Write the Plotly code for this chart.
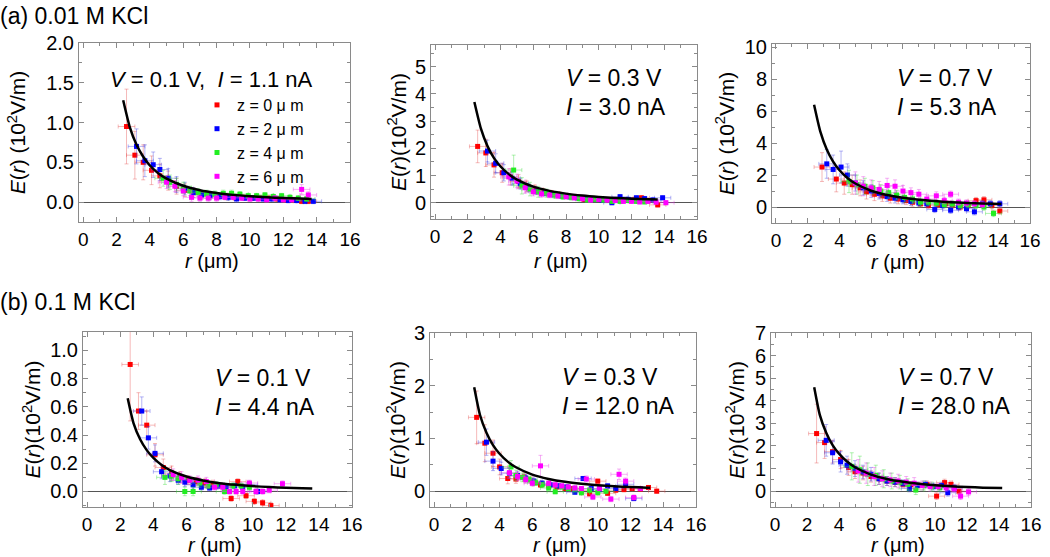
import plotly.graph_objects as go

# ---------------- data ----------------
X_ERR = 0.5
X_TICKS = [0, 2, 4, 6, 8, 10, 12, 14, 16]
SERIES_NAMES = ["z = 0 \u03bc m", "z = 2 \u03bc m", "z = 4 \u03bc m", "z = 6 \u03bc m"]

# (a) 0.01 M KCl, V = 0.1 V
a1_red_r = [2.6, 3.1, 3.6, 4.1, 4.6, 5.1, 5.6, 6.1, 6.6, 7.1, 7.6, 8.1, 8.6, 9.1, 9.6, 10.1, 10.6, 11.1, 11.6, 12.1, 12.6, 13.1, 13.5]
a1_red_e = [0.95, 0.59, 0.50, 0.40, 0.33, 0.27, 0.20, 0.15, 0.12, 0.09, 0.08, 0.08, 0.07, 0.06, 0.06, 0.05, 0.05, 0.05, 0.04, 0.03, 0.03, 0.01, 0.01]
a1_red_de = [0.47, 0.30, 0.22, 0.18, 0.15, 0.12, 0.10, 0.08, 0.06, 0.05, 0.05, 0.04, 0.04, 0.04, 0.03, 0.03, 0.03, 0.03, 0.03, 0.03, 0.03, 0.03, 0.03]
a1_blue_r = [3.2, 3.7, 4.2, 4.6, 5.1, 5.6, 6.1, 6.6, 7.1, 7.6, 8.2, 8.7, 9.2, 9.7, 10.2, 10.8, 11.3, 11.8, 12.3, 12.8, 13.3, 13.8]
a1_blue_e = [0.70, 0.52, 0.47, 0.41, 0.30, 0.22, 0.17, 0.12, 0.09, 0.08, 0.07, 0.06, 0.04, 0.05, 0.05, 0.04, 0.04, 0.03, 0.02, 0.02, 0.01, 0.01]
a1_blue_de = [0.22, 0.20, 0.16, 0.14, 0.12, 0.10, 0.08, 0.06, 0.05, 0.05, 0.04, 0.04, 0.04, 0.03, 0.03, 0.03, 0.03, 0.03, 0.03, 0.03, 0.03, 0.03]
a1_green_r = [4.8, 5.2, 5.6, 6.0, 6.4, 6.9, 7.4, 7.9, 8.4, 8.9, 9.4, 9.9, 10.4, 10.9, 11.4, 11.9, 12.4, 12.9, 13.4]
a1_green_e = [0.30, 0.25, 0.22, 0.18, 0.14, 0.12, 0.10, 0.10, 0.11, 0.11, 0.10, 0.08, 0.08, 0.09, 0.07, 0.08, 0.06, 0.05, 0.04]
a1_green_de = [0.10, 0.09, 0.08, 0.07, 0.06, 0.05, 0.05, 0.04, 0.04, 0.04, 0.03, 0.03, 0.03, 0.03, 0.03, 0.03, 0.03, 0.03, 0.03]
a1_mag_r = [5.0, 5.5, 6.0, 6.5, 7.0, 7.5, 8.0, 8.5, 9.0, 9.5, 10.0, 10.5, 11.0, 11.5, 12.0, 12.5, 13.1, 13.5]
a1_mag_e = [0.25, 0.20, 0.14, 0.06, 0.05, 0.05, 0.05, 0.06, 0.06, 0.05, 0.04, 0.04, 0.03, 0.05, 0.03, 0.03, 0.16, 0.09]
a1_mag_de = [0.08, 0.07, 0.06, 0.05, 0.04, 0.04, 0.04, 0.03, 0.03, 0.03, 0.03, 0.03, 0.03, 0.03, 0.03, 0.03, 0.06, 0.04]
a1_fit_r = [2.4, 2.8, 3.2, 3.6, 4.0, 4.5, 5.0, 6.0, 7.0, 8.0, 9.0, 10.0, 11.0, 12.0, 13.0, 13.7]
a1_fit_e = [1.28, 0.94, 0.72, 0.57, 0.46, 0.364, 0.295, 0.205, 0.15, 0.115, 0.091, 0.074, 0.061, 0.051, 0.044, 0.04]

# (a) V = 0.3 V
a2_red_r = [2.6, 3.1, 3.6, 4.1, 4.6, 5.1, 5.6, 6.1, 6.6, 7.1, 7.6, 8.1, 8.6, 9.1, 9.6, 10.1, 10.6, 11.1, 11.6, 12.1, 12.6, 13.1, 13.6]
a2_red_e = [2.07, 1.83, 1.39, 1.10, 0.95, 0.78, 0.60, 0.50, 0.40, 0.35, 0.30, 0.25, 0.20, 0.12, 0.15, 0.12, 0.10, 0.12, 0.10, 0.10, 0.18, 0.08, -0.08]
a2_red_de = [0.60, 0.50, 0.45, 0.35, 0.30, 0.25, 0.20, 0.15, 0.12, 0.10, 0.10, 0.08, 0.08, 0.08, 0.08, 0.08, 0.08, 0.08, 0.08, 0.08, 0.08, 0.08, 0.08]
a2_blue_r = [3.2, 3.7, 4.2, 4.7, 5.2, 5.7, 6.2, 6.7, 7.2, 7.7, 8.2, 8.7, 9.2, 9.7, 10.2, 10.8, 11.3, 11.8, 12.3, 12.8, 13.3, 13.9]
a2_blue_e = [1.90, 1.45, 1.10, 0.90, 0.70, 0.55, 0.42, 0.35, 0.30, 0.25, 0.22, 0.18, 0.15, 0.12, 0.10, 0.00, 0.22, 0.12, 0.18, 0.15, 0.10, 0.18]
a2_blue_de = [0.40, 0.35, 0.30, 0.25, 0.20, 0.15, 0.12, 0.10, 0.10, 0.08, 0.08, 0.08, 0.08, 0.08, 0.08, 0.08, 0.08, 0.08, 0.08, 0.08, 0.08, 0.08]
a2_green_r = [4.8, 5.3, 5.8, 6.3, 6.8, 7.3, 7.8, 8.3, 8.8, 9.3, 9.8, 10.3, 10.8, 11.3, 11.8, 12.3, 12.8]
a2_green_e = [1.20, 0.62, 0.50, 0.40, 0.35, 0.28, 0.22, 0.20, 0.15, 0.10, 0.12, 0.10, 0.05, 0.05, 0.08, 0.05, 0.03]
a2_green_de = [0.55, 0.30, 0.25, 0.20, 0.15, 0.12, 0.10, 0.10, 0.08, 0.08, 0.08, 0.08, 0.08, 0.08, 0.08, 0.08, 0.08]
a2_mag_r = [4.5, 5.0, 5.5, 6.0, 6.5, 7.0, 7.5, 8.0, 8.5, 9.0, 9.5, 10.0, 10.5, 11.0, 11.5, 12.0, 12.5, 13.0, 13.5, 14.1]
a2_mag_e = [0.95, 0.80, 0.55, 0.40, 0.32, 0.28, 0.25, 0.22, 0.18, 0.15, 0.10, 0.12, 0.10, 0.08, 0.05, 0.05, 0.03, 0.05, 0.02, 0.00]
a2_mag_de = [0.30, 0.25, 0.20, 0.15, 0.12, 0.10, 0.10, 0.08, 0.08, 0.08, 0.08, 0.08, 0.08, 0.08, 0.08, 0.08, 0.08, 0.08, 0.08, 0.08]
a2_fit_r = [2.4, 2.8, 3.2, 3.6, 4.0, 4.5, 5.0, 6.0, 7.0, 8.0, 9.0, 10.0, 11.0, 12.0, 13.0, 13.6]
a2_fit_e = [3.7, 2.72, 2.08, 1.64, 1.33, 1.05, 0.85, 0.59, 0.435, 0.333, 0.263, 0.213, 0.176, 0.148, 0.126, 0.115]

# (a) V = 0.7 V
a3_red_r = [2.9, 3.8, 4.3, 4.8, 5.3, 5.7, 6.2, 6.7, 7.2, 7.7, 8.2, 8.6, 9.1, 9.6, 10.2, 10.7, 11.1, 11.6, 12.1, 12.6, 13.1, 13.6, 14.1]
a3_red_e = [2.5, 1.75, 1.5, 1.4, 1.2, 0.95, 0.8, 0.7, 0.55, 0.5, 0.4, 0.3, 0.2, 0.1, 0.15, 0.2, 0.1, 0.0, 0.1, 0.4, 0.45, 0.1, -0.25]
a3_red_de = [0.9, 0.8, 0.7, 0.6, 0.5, 0.45, 0.4, 0.35, 0.3, 0.3, 0.25, 0.25, 0.2, 0.2, 0.2, 0.2, 0.2, 0.2, 0.2, 0.2, 0.2, 0.2, 0.2]
a3_blue_r = [3.2, 3.6, 4.1, 4.5, 5.0, 5.5, 6.0, 6.5, 7.0, 7.5, 8.0, 8.5, 9.0, 9.5, 10.0, 10.5, 11.0, 11.5, 12.0, 12.5, 13.0, 13.5, 14.1]
a3_blue_e = [2.7, 2.35, 2.5, 2.0, 1.5, 1.2, 1.0, 0.85, 0.65, 0.55, 0.45, 0.35, 0.25, 0.2, -0.15, 0.1, -0.2, 0.0, -0.1, -0.3, 0.2, 0.2, 0.2]
a3_blue_de = [0.9, 0.9, 1.0, 0.7, 0.5, 0.45, 0.4, 0.35, 0.3, 0.3, 0.25, 0.25, 0.2, 0.2, 0.2, 0.2, 0.2, 0.2, 0.2, 0.2, 0.2, 0.2, 0.2]
a3_green_r = [4.6, 5.1, 5.6, 6.1, 6.6, 7.1, 7.6, 8.1, 8.6, 9.1, 9.6, 10.1, 10.6, 11.1, 11.6, 12.1, 12.6, 13.1, 13.7]
a3_green_e = [1.6, 1.4, 1.3, 1.2, 1.0, 0.9, 0.75, 0.6, 0.5, 0.3, 0.3, 0.25, 0.15, 0.2, 0.1, 0.15, 0.1, 0.0, -0.4]
a3_green_de = [0.7, 0.6, 0.5, 0.45, 0.4, 0.35, 0.3, 0.3, 0.25, 0.25, 0.2, 0.2, 0.2, 0.2, 0.2, 0.2, 0.2, 0.2, 0.2]
a3_mag_r = [5.0, 5.5, 6.0, 6.5, 7.0, 7.5, 8.0, 8.5, 9.0, 9.5, 10.1, 10.6, 11.0, 11.5, 12.0, 12.5, 13.0]
a3_mag_e = [1.5, 1.3, 1.2, 1.1, 1.35, 1.3, 1.0, 0.9, 0.8, 0.5, 0.7, 0.4, 0.8, 0.3, 0.25, 0.2, 0.15]
a3_mag_de = [0.7, 0.6, 0.5, 0.5, 0.45, 0.4, 0.35, 0.3, 0.3, 0.25, 0.25, 0.2, 0.2, 0.2, 0.2, 0.2, 0.2]
a3_fit_r = [2.4, 2.8, 3.2, 3.6, 4.0, 4.5, 5.0, 6.0, 7.0, 8.0, 9.0, 10.0, 11.0, 12.0, 13.0, 14.2]
a3_fit_e = [6.4, 4.7, 3.6, 2.84, 2.3, 1.82, 1.47, 1.02, 0.75, 0.58, 0.455, 0.37, 0.305, 0.256, 0.218, 0.185]

# (b) 0.1 M KCl, V = 0.1 V
b1_red_r = [2.6, 3.1, 3.6, 4.1, 4.6, 5.1, 5.6, 6.1, 6.6, 7.1, 7.6, 8.1, 8.7, 9.1, 9.6, 10.1, 10.6, 11.1]
b1_red_e = [0.90, 0.57, 0.47, 0.26, 0.17, 0.13, 0.10, 0.08, 0.07, 0.06, 0.05, 0.04, -0.05, 0.07, -0.03, -0.07, -0.08, -0.10]
b1_red_de = [0.40, 0.13, 0.10, 0.08, 0.06, 0.05, 0.04, 0.03, 0.03, 0.03, 0.03, 0.02, 0.02, 0.02, 0.02, 0.02, 0.02, 0.02]
b1_blue_r = [3.3, 3.7, 4.1, 4.5, 5.0, 5.5, 5.9, 6.4, 6.9, 7.4, 7.9, 8.4, 8.9, 9.4, 9.8, 10.3]
b1_blue_e = [0.57, 0.38, 0.27, 0.14, 0.11, 0.08, 0.066, 0.047, 0.03, 0.025, 0.04, 0.03, 0.04, 0.03, 0.05, 0.0]
b1_blue_de = [0.10, 0.08, 0.06, 0.05, 0.04, 0.03, 0.03, 0.03, 0.02, 0.02, 0.02, 0.02, 0.02, 0.02, 0.02, 0.02]
b1_green_r = [4.7, 5.1, 5.5, 5.9, 6.4, 6.8, 7.3, 7.8, 8.3, 8.8, 9.3, 9.8]
b1_green_e = [0.10, 0.11, 0.09, 0.0, 0.0, 0.06, 0.04, 0.05, 0.0, 0.04, 0.04, 0.03]
b1_green_de = [0.05, 0.04, 0.04, 0.03, 0.03, 0.03, 0.02, 0.02, 0.02, 0.02, 0.02, 0.02]
b1_mag_r = [5.2, 5.7, 6.2, 6.7, 7.2, 7.7, 8.2, 8.6, 9.0, 9.4, 9.8, 10.2, 10.6, 11.0, 11.8]
b1_mag_e = [0.12, 0.10, 0.08, 0.08, 0.07, 0.03, 0.03, 0.0, 0.0, 0.0, 0.06, 0.0, 0.0, 0.01, 0.055]
b1_mag_de = [0.04, 0.04, 0.03, 0.03, 0.03, 0.02, 0.02, 0.02, 0.02, 0.02, 0.02, 0.02, 0.02, 0.02, 0.02]
b1_fit_r = [2.45, 2.8, 3.2, 3.6, 4.0, 4.5, 5.0, 6.0, 7.0, 8.0, 9.0, 10.0, 11.0, 12.0, 13.0, 13.6]
b1_fit_e = [0.66, 0.485, 0.37, 0.293, 0.238, 0.188, 0.152, 0.106, 0.078, 0.059, 0.047, 0.038, 0.031, 0.026, 0.0225, 0.021]

# (b) V = 0.3 V
b2_red_r = [2.6, 3.1, 3.6, 4.0, 4.5, 5.0, 5.5, 6.0, 6.5, 7.0, 7.5, 8.0, 8.5, 9.0, 9.5, 10.0, 10.6, 11.1, 11.6, 12.1, 12.6, 13.1, 13.6]
b2_red_e = [1.40, 0.91, 0.72, 0.46, 0.24, 0.23, 0.27, 0.18, 0.12, 0.10, 0.08, 0.05, 0.05, 0.02, -0.05, 0.19, -0.04, 0.02, 0.03, 0.05, 0.04, 0.07, 0.0]
b2_red_de = [0.50, 0.35, 0.25, 0.15, 0.10, 0.08, 0.08, 0.06, 0.05, 0.05, 0.05, 0.04, 0.04, 0.04, 0.04, 0.04, 0.04, 0.04, 0.04, 0.04, 0.04, 0.04, 0.04]
b2_blue_r = [3.2, 3.6, 4.1, 4.6, 5.1, 5.6, 6.1, 6.6, 7.1, 7.6, 8.1, 8.6, 9.1, 9.6, 10.1, 10.6, 11.1, 11.7, 12.2]
b2_blue_e = [0.93, 0.57, 0.43, 0.34, 0.30, 0.25, 0.19, 0.15, 0.12, 0.10, 0.08, -0.02, 0.24, 0.05, 0.03, 0.10, 0.05, 0.13, -0.14]
b2_blue_de = [0.25, 0.18, 0.12, 0.10, 0.08, 0.06, 0.05, 0.05, 0.05, 0.04, 0.04, 0.04, 0.04, 0.04, 0.04, 0.04, 0.04, 0.04, 0.04]
b2_green_r = [4.7, 5.0, 5.4, 5.8, 6.2, 6.6, 7.0, 7.4, 7.8, 8.2, 8.6, 9.0, 9.5, 10.0, 10.5]
b2_green_e = [0.46, 0.30, 0.26, 0.22, 0.16, 0.12, 0.06, -0.01, 0.08, 0.05, 0.04, -0.03, 0.02, -0.03, 0.0]
b2_green_de = [0.12, 0.10, 0.08, 0.06, 0.05, 0.05, 0.04, 0.04, 0.04, 0.04, 0.04, 0.04, 0.04, 0.04, 0.04]
b2_mag_r = [4.6, 5.1, 5.6, 6.0, 6.5, 7.0, 7.4, 7.8, 8.2, 8.6, 9.0, 9.3, 9.7, 10.1, 10.8, 11.3, 11.7, 12.2, 12.6]
b2_mag_e = [0.35, 0.28, 0.22, 0.15, 0.48, 0.15, 0.12, 0.10, 0.08, 0.06, 0.05, 0.23, -0.11, 0.05, -0.15, 0.32, 0.19, -0.12, 0.05]
b2_mag_de = [0.10, 0.08, 0.06, 0.05, 0.20, 0.05, 0.04, 0.04, 0.04, 0.04, 0.04, 0.06, 0.05, 0.04, 0.05, 0.10, 0.06, 0.05, 0.04]
b2_fit_r = [2.45, 2.8, 3.2, 3.6, 4.0, 4.5, 5.0, 6.0, 7.0, 8.0, 9.0, 10.0, 11.0, 12.0, 13.0, 13.2]
b2_fit_e = [1.97, 1.45, 1.11, 0.875, 0.71, 0.56, 0.454, 0.315, 0.232, 0.177, 0.14, 0.113, 0.094, 0.079, 0.067, 0.065]

# (b) V = 0.7 V
b3_red_r = [2.6, 3.1, 3.6, 4.1, 4.6, 5.0, 5.5, 6.0, 6.5, 7.0, 7.5, 8.0, 8.5, 9.0, 9.5, 10.1, 10.6, 11.0, 11.5]
b3_red_e = [2.55, 2.15, 1.75, 1.40, 1.05, 0.86, 0.80, 0.65, 0.55, 0.45, 0.40, 0.30, 0.28, 0.25, 0.30, -0.22, 0.38, 0.30, 0.0]
b3_red_de = [1.30, 0.70, 0.50, 0.40, 0.35, 0.30, 0.30, 0.25, 0.25, 0.20, 0.20, 0.15, 0.15, 0.15, 0.15, 0.15, 0.15, 0.15, 0.15]
b3_blue_r = [3.2, 3.6, 4.1, 4.5, 5.0, 5.5, 6.0, 6.5, 7.0, 7.5, 8.0, 8.4, 8.9, 9.4, 9.9, 10.4, 10.8, 11.2]
b3_blue_e = [2.25, 1.70, 1.30, 1.15, 1.00, 0.85, 0.75, 0.55, 0.45, 0.40, 0.35, 0.12, 0.25, 0.30, 0.20, 0.25, -0.07, 0.15]
b3_blue_de = [0.70, 0.50, 0.45, 0.40, 0.35, 0.30, 0.30, 0.25, 0.20, 0.20, 0.15, 0.15, 0.15, 0.15, 0.15, 0.15, 0.15, 0.15]
b3_green_r = [4.8, 5.3, 5.8, 6.3, 6.8, 7.3, 7.8, 8.3, 8.8, 9.3, 9.8, 10.3]
b3_green_e = [1.10, 0.95, 0.75, 0.70, 0.55, 0.45, 0.40, 0.30, 0.05, 0.25, 0.20, 0.15]
b3_green_de = [0.60, 0.60, 0.50, 0.45, 0.40, 0.35, 0.30, 0.25, 0.20, 0.20, 0.20, 0.15]
b3_mag_r = [5.2, 5.7, 6.2, 6.7, 7.2, 7.7, 8.2, 8.7, 9.2, 9.7, 10.2, 10.7, 11.2, 11.6, 12.1]
b3_mag_e = [0.90, 0.80, 0.65, 0.55, 0.50, 0.45, 0.40, 0.35, 0.25, 0.20, 0.20, 0.15, 0.10, -0.22, -0.03]
b3_mag_de = [0.50, 0.45, 0.40, 0.35, 0.30, 0.30, 0.25, 0.25, 0.20, 0.20, 0.15, 0.15, 0.15, 0.15, 0.15]
b3_fit_r = [2.45, 2.8, 3.2, 3.6, 4.0, 4.5, 5.0, 6.0, 7.0, 8.0, 9.0, 10.0, 11.0, 12.0, 13.0, 14.2]
b3_fit_e = [4.6, 3.38, 2.59, 2.04, 1.66, 1.31, 1.06, 0.736, 0.54, 0.414, 0.327, 0.265, 0.219, 0.184, 0.157, 0.137]

# y-axis ticks per panel
a1_yticks = [0.0, 0.5, 1.0, 1.5, 2.0]
a2_yticks = [0, 1, 2, 3, 4, 5]
a3_yticks = [0, 2, 4, 6, 8, 10]
b1_yticks = [0.0, 0.2, 0.4, 0.6, 0.8, 1.0]
b2_yticks = [0, 1, 2, 3]
b3_yticks = [0, 1, 2, 3, 4, 5, 6, 7]

# ---------------- styling / layout ----------------
W, H = 1050, 557
FONT = "Liberation Sans, Arial, sans-serif"
COLORS = ["#ff0000", "#0000ff", "#22ee22", "#ff00ff"]
ERR_COLORS = ["rgba(230,80,80,0.4)", "rgba(70,70,230,0.4)", "rgba(60,220,60,0.4)", "rgba(230,60,230,0.4)"]

panels = [
    dict(box=(79, 350, 43, 222), yr=(-0.25, 2.0), yt=a1_yticks, fmt=".1f", ydt=0.25,
         series=[(a1_red_r, a1_red_e, a1_red_de), (a1_blue_r, a1_blue_e, a1_blue_de),
                 (a1_green_r, a1_green_e, a1_green_de), (a1_mag_r, a1_mag_e, a1_mag_de)],
         fit=(a1_fit_r, a1_fit_e), ytitle="<i>E</i>(<i>r</i>) (10<sup>2</sup>V/m)", stand=14, xt=261),
    dict(box=(431, 697, 45, 219), yr=(-0.6, 5.8), yt=a2_yticks, fmt="d", ydt=0.5,
         series=[(a2_red_r, a2_red_e, a2_red_de), (a2_blue_r, a2_blue_e, a2_blue_de),
                 (a2_green_r, a2_green_e, a2_green_de), (a2_mag_r, a2_mag_e, a2_mag_de)],
         fit=(a2_fit_r, a2_fit_e), ytitle="<i>E</i>(<i>r</i>)(10<sup>2</sup>V/m)", stand=2, xt=261),
    dict(box=(772, 1030, 44, 223), yr=(-1.0, 10.2), yt=a3_yticks, fmt="d", ydt=1,
         series=[(a3_red_r, a3_red_e, a3_red_de), (a3_blue_r, a3_blue_e, a3_blue_de),
                 (a3_green_r, a3_green_e, a3_green_de), (a3_mag_r, a3_mag_e, a3_mag_de)],
         fit=(a3_fit_r, a3_fit_e), ytitle="<i>E</i>(<i>r</i>) (10<sup>2</sup>V/m)", stand=4, xt=262),
    dict(box=(83, 352, 332, 507), yr=(-0.11, 1.13), yt=b1_yticks, fmt=".1f", ydt=0.1,
         series=[(b1_red_r, b1_red_e, b1_red_de), (b1_blue_r, b1_blue_e, b1_blue_de),
                 (b1_green_r, b1_green_e, b1_green_de), (b1_mag_r, b1_mag_e, b1_mag_de)],
         fit=(b1_fit_r, b1_fit_e), ytitle="<i>E</i>(<i>r</i>)(10<sup>2</sup>V/m)", stand=3, xt=545),
    dict(box=(430, 696, 333, 507), yr=(-0.3, 3.0), yt=b2_yticks, fmt="d", ydt=0.5,
         series=[(b2_red_r, b2_red_e, b2_red_de), (b2_blue_r, b2_blue_e, b2_blue_de),
                 (b2_green_r, b2_green_e, b2_green_de), (b2_mag_r, b2_mag_e, b2_mag_de)],
         fit=(b2_fit_r, b2_fit_e), ytitle="<i>E</i>(<i>r</i>)(10<sup>2</sup>V/m)", stand=2, xt=545),
    dict(box=(771, 1031, 333, 507), yr=(-0.7, 7.0), yt=b3_yticks, fmt="d", ydt=0.5,
         series=[(b3_red_r, b3_red_e, b3_red_de), (b3_blue_r, b3_blue_e, b3_blue_de),
                 (b3_green_r, b3_green_e, b3_green_de), (b3_mag_r, b3_mag_e, b3_mag_de)],
         fit=(b3_fit_r, b3_fit_e), ytitle="<i>E</i>(<i>r</i>)(10<sup>2</sup>V/m)", stand=4, xt=545),
]

fig = go.Figure()
layout = dict(
    width=W, height=H, margin=dict(l=0, r=0, t=0, b=0, autoexpand=False),
    paper_bgcolor="white", plot_bgcolor="white",
    font=dict(family=FONT, size=20, color="black"),
    showlegend=True,
    legend=dict(x=197 / W, y=1 - 88 / H, xanchor="left", yanchor="top",
                bgcolor="rgba(0,0,0,0)", font=dict(size=16, family=FONT),
                tracegroupgap=0, itemwidth=30),
)

def label(text, px, py, size=23, anchor="left"):
    fig.add_annotation(text=text, x=px / W, y=1 - py / H, xref="paper", yref="paper",
                       xanchor=anchor, yanchor="middle", showarrow=False,
                       font=dict(size=size, family=FONT, color="black"))

for i, p in enumerate(panels):
    n = i + 1
    xa = "x" if n == 1 else f"x{n}"
    ya = "y" if n == 1 else f"y{n}"
    x0, x1, y0, y1 = p["box"]
    for s, (rr, ee, de) in enumerate(p["series"]):
        fig.add_trace(go.Scatter(
            x=rr, y=ee, mode="markers", xaxis=xa, yaxis=ya,
            name=SERIES_NAMES[s], legendgroup=SERIES_NAMES[s], showlegend=(n == 1),
            marker=dict(symbol="square", size=5, color=COLORS[s]),
            error_x=dict(type="constant", value=X_ERR, color=ERR_COLORS[s], thickness=1, width=2),
            error_y=dict(type="data", array=de, color=ERR_COLORS[s], thickness=1, width=2),
        ))
    fig.add_trace(go.Scatter(
        x=p["fit"][0], y=p["fit"][1], mode="lines", xaxis=xa, yaxis=ya, showlegend=False,
        line=dict(color="black", width=2.5, shape="spline", smoothing=0.6),
    ))
    axis_common = dict(showline=True, linecolor="#8a8a8a", linewidth=1, mirror="allticks",
                       ticks="inside", ticklen=5, tickcolor="#8a8a8a", showgrid=False,
                       automargin=False)
    layout["xaxis" if n == 1 else f"xaxis{n}"] = dict(
        axis_common, domain=[x0 / W, x1 / W], anchor=ya,
        range=[-0.25, 16], tickvals=X_TICKS, zeroline=False,
        tickfont=dict(size=19, family=FONT, color="black"),
        minor=dict(dtick=1, ticks="inside", ticklen=3, tickcolor="#8a8a8a", tick0=0),
    )
    layout["yaxis" if n == 1 else f"yaxis{n}"] = dict(
        axis_common, domain=[1 - y1 / H, 1 - y0 / H], anchor=xa,
        range=list(p["yr"]), tickvals=p["yt"], tickformat=p["fmt"],
        tickfont=dict(size=20, family=FONT, color="black"),
        zeroline=True, zerolinecolor="#555555", zerolinewidth=1,
        minor=dict(dtick=p["ydt"], ticks="inside", ticklen=3, tickcolor="#8a8a8a", tick0=0),
        title=dict(text=p["ytitle"], standoff=p["stand"], font=dict(size=21, family=FONT)),
    )
    # x-axis title placed just below the tick labels
    label("<i>r</i> (\u03bcm)", (x0 + x1) / 2 - 3, p["xt"], size=20, anchor="center")

fig.update_layout(**layout)

label("(a) 0.01 M KCl", -2, 16)
label("(b) 0.1 M KCl", -2, 302)
label("<i>V</i> = 0.1 V,  <i>I</i> = 1.1 nA", 211, 80, size=22, anchor="center")
label("<i>V</i> = 0.3 V", 564, 78)
label("<i>I</i> = 3.0 nA", 564, 107)
label("<i>V</i> = 0.7 V", 895, 78)
label("<i>I</i> = 5.3 nA", 895, 107)
label("<i>V</i> = 0.1 V", 213, 378)
label("<i>I</i> = 4.4 nA", 213, 407)
label("<i>V</i> = 0.3 V", 560, 377)
label("<i>I</i> = 12.0 nA", 560, 406)
label("<i>V</i> = 0.7 V", 896, 377)
label("<i>I</i> = 28.0 nA", 896, 406)

fig.write_html(
    "out.html",
    config={"displayModeBar": False},
    post_script="document.body.style.margin='0';document.body.style.padding='0';"
                "document.body.style.overflow='hidden';",
)
